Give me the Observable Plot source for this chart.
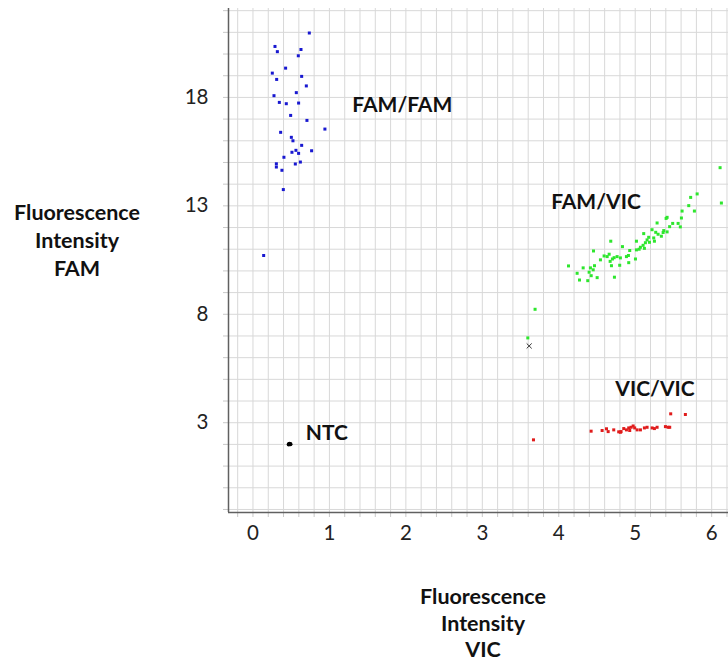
<!DOCTYPE html>
<html>
<head>
<meta charset="utf-8">
<script src="https://cdn.jsdelivr.net/npm/d3@7"></script>
<script src="https://cdn.jsdelivr.net/npm/@observablehq/plot@0.6"></script>
<style>
  html, body { margin: 0; padding: 0; background: #fff; }
  #wrap { position: relative; width: 728px; height: 663px; overflow: hidden; font-family: Lato, "Open Sans", sans-serif; }
  .title { position: absolute; font-weight: bold; font-size: 21.5px; line-height: 28px; text-align: center; color: #111; }
</style>
</head>
<body>
<div id="wrap">
  <div id="chart"></div>
  <div class="title" style="left:-23px; top:198px; width:200px;">Fluorescence<br>Intensity<br>FAM</div>
  <div class="title" style="left:383px; top:583px; width:200px; line-height:26.5px;">Fluorescence<br>Intensity<br>VIC</div>
</div>
<script>
// ---- Data (VIC fluorescence = x, FAM fluorescence = y) ----
const famFamX = [0.14, 0.737, 0.288, 0.319, 0.628, 0.593, 0.427, 0.253, 0.637, 0.31, 0.698, 0.567, 0.275, 0.345, 0.436, 0.597, 0.493, 0.706, 0.941, 0.362, 0.502, 0.523, 0.637, 0.562, 0.767, 0.51, 0.597, 0.405, 0.62, 0.306, 0.554, 0.306, 0.379, 0.397];
const famFamY = [10.71, 20.97, 20.35, 20.11, 20.21, 19.92, 19.35, 19.12, 18.97, 18.83, 18.53, 18.22, 18.08, 17.77, 17.71, 17.74, 17.17, 16.94, 16.54, 16.39, 16.16, 16.0, 15.79, 15.56, 15.54, 15.47, 15.42, 15.24, 15.02, 14.94, 14.93, 14.79, 14.64, 13.75];

const famVicX = [6.11, 6.127, 5.81, 5.725, 5.70, 5.613, 5.774, 5.604, 5.417, 5.404, 5.286, 5.561, 5.49, 5.45, 5.59, 5.22,
  5.373, 5.365, 5.268, 5.299, 5.417, 5.342, 5.242, 5.251, 5.176, 5.155, 5.186, 5.111, 5.133, 5.103, 5.068, 5.051, 5.12, 5.016, 5.016,
  4.928, 4.911, 4.885, 4.833, 5.003, 4.915, 4.806, 4.763, 4.724, 4.680, 4.659, 4.633, 4.593, 4.545, 4.672, 4.689, 4.797,
  4.454, 4.467, 4.414, 4.450, 4.397, 4.319, 4.240, 4.271, 4.379, 4.502, 4.728, 4.127, 4.424, 4.702, 3.69, 3.595];
const famVicY = [14.76, 13.13, 13.55, 13.39, 13.01, 12.76, 12.76, 12.44, 12.47, 12.42, 12.21, 12.19, 12.19, 12.04, 12.03, 11.90,
  11.86, 11.77, 11.78, 11.69, 11.80, 11.60, 11.52, 11.37, 11.55, 11.43, 11.32, 11.72, 11.30, 11.18, 11.09, 11.00, 11.04, 11.37, 10.97,
  10.94, 10.71, 10.66, 11.12, 10.55, 10.38, 10.60, 10.66, 10.61, 11.37, 10.77, 10.66, 10.69, 10.51, 10.44, 10.24, 10.26,
  10.92, 10.24, 10.14, 10.05, 9.94, 10.14, 9.89, 9.58, 9.55, 9.69, 9.71, 10.23, 9.78, 10.55, 8.23, 6.91];

const vicVicX = [5.464, 5.656, 4.423, 4.567, 4.624, 4.646, 4.719, 4.784, 4.815, 4.850, 4.885, 4.915, 4.946, 4.973, 4.993, 5.025, 5.068, 5.12, 5.155, 5.221, 5.251, 5.286, 5.395, 5.43, 5.451, 4.806, 4.928, 3.669];
const vicVicY = [3.41, 3.38, 2.61, 2.64, 2.72, 2.59, 2.67, 2.58, 2.59, 2.73, 2.67, 2.76, 2.79, 2.85, 2.76, 2.67, 2.67, 2.76, 2.79, 2.76, 2.73, 2.79, 2.82, 2.79, 2.79, 2.56, 2.64, 2.21];

const ntcX = [0.468, 0.478, 0.49];
const ntcY = [2.00, 2.03, 2.01];

const undeterminedX = [3.613];
const undeterminedY = [6.54];

const clusterLabels = ["FAM/FAM", "FAM/VIC", "VIC/VIC", "NTC"];
const clusterLabelX = [1.30, 3.90, 4.74, 0.69];
const clusterLabelY = [17.62, 13.15, 4.53, 2.5];

const xTickLabels = [0, 1, 2, 3, 4, 5, 6];
const yTickLabels = [3, 8, 13, 18];
const xDomain = [-0.32, 6.22];
const yDomain = [-1.14, 22.1];

// ---- Build tables ----
const zip = (xs, ys) => xs.map((x, i) => ({x, y: ys[i]}));
const famFam = zip(famFamX, famFamY);
const famVic = zip(famVicX, famVicY);
const vicVic = zip(vicVicX, vicVicY);
const ntc = zip(ntcX, ntcY);
const undet = zip(undeterminedX, undeterminedY);
const labels = clusterLabels.map((t, i) => ({t, x: clusterLabelX[i], y: clusterLabelY[i]}));

const xGrid = d3.range(-1, 32).map(i => +(i * 0.2).toFixed(1));
const yGrid = d3.range(-1, 23);

const gridColor = "#d8d8d8";
const axisColor = "#606060";

const chart = Plot.plot({
  width: 728,
  height: 560,
  marginLeft: 228,
  marginRight: 0,
  marginTop: 8,
  marginBottom: 48,
  style: {fontFamily: "Lato, 'Open Sans', sans-serif", fontSize: "20px", color: "#222", background: "#fff"},
  x: {domain: xDomain, label: null},
  y: {domain: yDomain, label: null},
  marks: [
    Plot.gridX({ticks: xGrid, stroke: gridColor, strokeOpacity: 1, strokeWidth: 1}),
    Plot.gridY({ticks: yGrid, stroke: gridColor, strokeOpacity: 1, strokeWidth: 1}),
    Plot.axisX({ticks: xGrid, tickSize: 5, text: null, stroke: "#c8c8c8", strokeOpacity: 1}),
    Plot.axisY({ticks: yGrid, tickSize: 5, text: null, stroke: "#c8c8c8", strokeOpacity: 1}),
    Plot.axisX({ticks: xTickLabels, tickFormat: d3.format("d"), tickSize: 0, tickPadding: 13, fontSize: 20.5, fill: "#222"}),
    Plot.axisY({ticks: yTickLabels, tickFormat: d3.format("d"), tickSize: 0, tickPadding: 20, fontSize: 20.5, fill: "#222"}),
    Plot.ruleX([xDomain[0]], {stroke: axisColor, strokeWidth: 1.5}),
    Plot.ruleY([yDomain[0]], {stroke: axisColor, strokeWidth: 1.5}),
    Plot.dot(famFam, {x: "x", y: "y", symbol: "square", r: 1.7, fill: "#1818d0", stroke: null}),
    Plot.dot(famVic, {x: "x", y: "y", symbol: "square", r: 1.7, fill: "#2ee62e", stroke: null}),
    Plot.dot(vicVic, {x: "x", y: "y", symbol: "square", r: 1.7, fill: "#e01c1c", stroke: null}),
    Plot.dot(ntc, {x: "x", y: "y", r: 2.1, fill: "#000", stroke: null}),
    Plot.dot(undet, {x: "x", y: "y", symbol: "times", r: 2.4, stroke: "#333", strokeWidth: 1}),
    Plot.text(labels, {x: "x", y: "y", text: "t", textAnchor: "start", fontWeight: "bold", fontSize: 21, fill: "#111"})
  ]
});
document.getElementById("chart").appendChild(chart);
</script>
</body>
</html>
